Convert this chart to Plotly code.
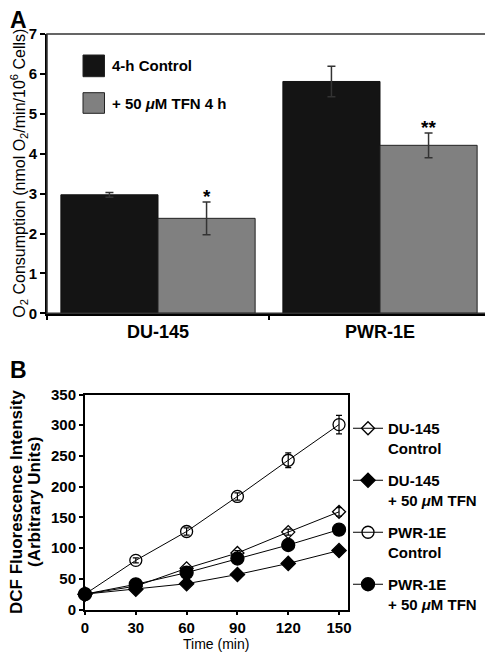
import plotly.graph_objects as go

# ---------------- Panel A data ----------------
cells = ["DU-145", "PWR-1E"]
ctrl_vals = [2.97, 5.81]
ctrl_err = [0.06, 0.38]
tfn_vals = [2.38, 4.21]
tfn_err = [0.41, 0.31]
sig_marks = ["*", "**"]
a_yticks = [0, 1, 2, 3, 4, 5, 6, 7]
a_legend = ["4-h Control", "+ 50 <i>\u03bc</i>M TFN 4 h"]

# ---------------- Panel B data ----------------
time_min = [0, 30, 60, 90, 120, 150]
du_ctrl = [25, 38, 67, 92, 126, 159]
du_ctrl_err = [3, 3, 3, 4, 5, 7]
du_tfn = [25, 33, 42, 57, 75, 96]
du_tfn_err = [3, 2, 3, 3, 3, 5]
pwr_ctrl = [25, 80, 127, 184, 243, 301]
pwr_ctrl_err = [3, 4, 6, 6, 12, 15]
pwr_tfn = [25, 41, 60, 83, 105, 130]
pwr_tfn_err = [3, 3, 3, 3, 3, 4]
b_names = ["DU-145<br>Control", "DU-145<br>+ 50 <i>\u03bc</i>M TFN",
           "PWR-1E<br>Control", "PWR-1E<br>+ 50 <i>\u03bc</i>M TFN"]
b_xticks = [0, 30, 60, 90, 120, 150]
b_yticks = [0, 50, 100, 150, 200, 250, 300, 350]

FONT = "Liberation Sans, Arial, sans-serif"
OFF = 8  # default body margin of the html page
W, H = 493 - OFF, 653 - OFF
BLACK = "#141414"
GRAY = "#808080"

# screen-pixel layout
ax_l, ax_r, ax_t, ax_b = 47, 491, 34, 313.3
bx_l, bx_r, bx_t, bx_b = 85, 347.5, 394.5, 609.5
bargap = 0.125

fig = go.Figure()

fig.add_trace(go.Bar(
    x=cells, y=ctrl_vals, name="4-h Control", marker=dict(color=BLACK, line=dict(color="#111", width=1)),
    error_y=dict(type="data", array=ctrl_err, color="#333", thickness=1.5, width=4),
    xaxis="x", yaxis="y", showlegend=False))
fig.add_trace(go.Bar(
    x=cells, y=tfn_vals, name="+ 50 uM TFN 4 h", marker=dict(color=GRAY, line=dict(color="#222", width=1)),
    error_y=dict(type="data", array=tfn_err, color="#333", thickness=1.5, width=4),
    xaxis="x", yaxis="y", showlegend=False))

# significance marks above TFN bars
cat_w = (ax_r - ax_l) / len(cells)
bar_w = cat_w * (1 - bargap) / 2
for c, v, e, s in zip(cells, tfn_vals, tfn_err, sig_marks):
    fig.add_annotation(x=c, y=v + e, xref="x", yref="y", text="<b>" + s + "</b>",
                       showarrow=False, xshift=bar_w / 2, yanchor="bottom", yshift=-7,
                       font=dict(family=FONT, size=19, color="black"))

# Panel B traces
styles = [
    (du_ctrl, du_ctrl_err, "diamond-open", 10),
    (du_tfn, du_tfn_err, "diamond", 11),
    (pwr_ctrl, pwr_ctrl_err, "circle-open", 12),
    (pwr_tfn, pwr_tfn_err, "circle", 13),
]
for i, ((vals, errs, sym, sz), nm) in enumerate(zip(styles, b_names)):
    fig.add_trace(go.Scatter(
        x=time_min, y=vals, name=nm, mode="lines+markers",
        line=dict(color="black", width=1),
        marker=dict(symbol=sym, size=sz, color="black", line=dict(color="black", width=1.3)),
        error_y=dict(type="data", array=errs, color="black", thickness=1.2, width=3),
        xaxis="x2", yaxis="y2", legend="legend2", legendgroup=str(i), cliponaxis=False))


def px_x(p):
    return (p - OFF) / W


def px_y(p):
    return 1 - (p - OFF) / H


tick_font = dict(family=FONT, size=15, weight="bold", color="black")

fig.update_layout(
    template="none",
    width=W, height=H, margin=dict(l=0, r=0, t=0, b=0, pad=0, autoexpand=False),
    paper_bgcolor="white", plot_bgcolor="white",
    font=dict(family=FONT, color="black"),
    barmode="group", bargap=bargap, bargroupgap=0,
    xaxis=dict(domain=[px_x(ax_l), px_x(ax_r)], anchor="y", type="category", automargin=False,
               range=[-0.5, 1.5], showline=True, linecolor="black", linewidth=2.5,
               ticks="outside", tickson="boundaries", ticklen=4, tickwidth=1.5, tickcolor="black",
               tickfont=dict(family=FONT, size=18, weight="bold", color="black"),
               showgrid=False, zeroline=False),
    yaxis=dict(domain=[px_y(ax_b), px_y(ax_t)], anchor="x", range=[0, 7], automargin=False,
               tickvals=a_yticks, showline=True, linecolor="black", linewidth=2,
               ticks="outside", ticklen=5, tickwidth=1.5, tickcolor="black",
               tickfont=tick_font, showgrid=False, zeroline=False),
    xaxis2=dict(domain=[px_x(bx_l), px_x(bx_r)], anchor="y2", range=[0, 155], automargin=False,
                tickvals=b_xticks, showline=True, linecolor="black", linewidth=2, mirror=True,
                ticks="outside", ticklen=3, tickwidth=1.5, tickcolor="black",
                tickfont=tick_font, showgrid=False, zeroline=False),
    yaxis2=dict(domain=[px_y(bx_b), px_y(bx_t)], anchor="x2", range=[0, 350], automargin=False,
                tickvals=b_yticks, showline=True, linecolor="black", linewidth=2, mirror=True,
                ticks="outside", ticklen=4, tickwidth=1.5, tickcolor="black",
                tickfont=tick_font, showgrid=False, zeroline=False),
    legend2=dict(x=px_x(348), y=px_y(412), xanchor="left", yanchor="top",
                 valign="top", tracegroupgap=10, itemwidth=30, bgcolor="rgba(0,0,0,0)",
                 font=dict(family=FONT, size=15, weight="bold", color="black")),
    showlegend=True,
)

# frame of panel A (thin top/right)
fig.add_shape(type="rect", xref="x domain", yref="y domain", x0=0, x1=1, y0=0, y1=1,
              line=dict(color="#333", width=1.5), layer="above")

# Panel A legend swatches + labels
sw = [(55, 76.7, BLACK), (92.7, 113.3, GRAY)]
for (t, b, col), lab in zip(sw, a_legend):
    fig.add_shape(type="rect", xref="paper", yref="paper", x0=px_x(83), x1=px_x(104.5),
                  y0=px_y(b), y1=px_y(t), fillcolor=col, line=dict(color="#222", width=1))
    fig.add_annotation(x=px_x(110), y=px_y((t + b) / 2), xref="paper", yref="paper",
                       text=lab, showarrow=False, xanchor="left", yanchor="middle",
                       font=dict(family=FONT, size=15, weight="bold", color="black"))

# axis titles
fig.add_annotation(x=px_x(19), y=px_y((ax_t + ax_b) / 2), xref="paper", yref="paper",
                   text="O<sub>2</sub> Consumption (nmol O<sub>2</sub>/min/10<sup>6</sup> Cells)",
                   textangle=-90, showarrow=False, xanchor="center", yanchor="middle",
                   font=dict(family=FONT, size=16, color="black"))
fig.add_annotation(x=px_x(16), y=px_y((bx_t + bx_b) / 2), xref="paper", yref="paper",
                   text="DCF Fluorescence Intensity",
                   textangle=-90, showarrow=False, xanchor="center", yanchor="middle",
                   font=dict(family=FONT, size=17, weight="bold", color="black"))
fig.add_annotation(x=px_x(34), y=px_y((bx_t + bx_b) / 2), xref="paper", yref="paper",
                   text="(Arbitrary Units)",
                   textangle=-90, showarrow=False, xanchor="center", yanchor="middle",
                   font=dict(family=FONT, size=17, weight="bold", color="black"))
fig.add_annotation(x=px_x((bx_l + bx_r) / 2), y=px_y(643.5), xref="paper", yref="paper",
                   text="Time (min)", showarrow=False, xanchor="center", yanchor="middle",
                   font=dict(family=FONT, size=14, color="black"))

# panel letters
fig.add_annotation(x=0, y=1, xref="paper", yref="paper", text="A",
                   showarrow=False, xanchor="left", yanchor="top", yshift=3,
                   font=dict(family=FONT, size=23, weight="bold", color="black"))
fig.add_annotation(x=0, y=px_y(370), xref="paper", yref="paper", text="B",
                   showarrow=False, xanchor="left", yanchor="middle",
                   font=dict(family=FONT, size=23, weight="bold", color="black"))

fig.write_html("out.html")
